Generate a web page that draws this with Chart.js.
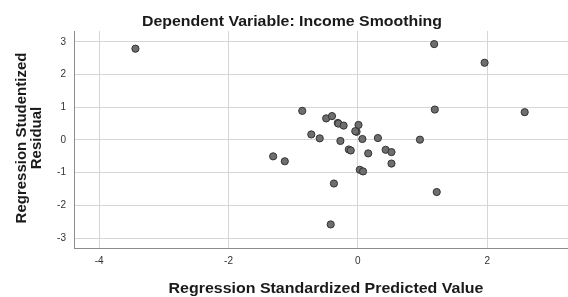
<!DOCTYPE html>
<html>
<head>
<meta charset="utf-8">
<script src="https://cdn.jsdelivr.net/npm/chart.js@4"></script>
<style>
  html, body { margin: 0; padding: 0; background: #fff; }
  #wrap { width: 568px; height: 297px; position: relative; }
</style>
</head>
<body>
<div id="wrap"><canvas id="residChart"></canvas></div>
<script>
// 标准化预测值 (x) 与 学生化残差 (y)
const predicted = [1.18, 1.96, -0.86, 1.19, 2.58, -0.49, -0.40, -0.31, -0.30, -0.22, 0.01, -0.02, -0.04,
    -0.72, -0.59, -0.27, 0.07, 0.31, 0.96, -0.14, -0.11, 0.16, 0.43, 0.52, 0.52, 0.03, 0.08, -0.37,
    1.22, -0.42, -3.44, -1.31, -1.13];
const residual = [2.93, 2.36, 0.89, 0.93, 0.85, 0.66, 0.73, 0.52, 0.50, 0.44, 0.46, 0.25, 0.27,
    0.17, 0.05, -0.03, 0.03, 0.06, 0.01, -0.29, -0.32, -0.41, -0.30, -0.37, -0.72, -0.91, -0.96, -1.33,
    -1.59, -2.58, 2.79, -0.50, -0.65];
const xTicks = [-4, -2, 0, 2];
const yTicks = [-3, -2, -1, 0, 1, 2, 3];

const chartTitle = 'Dependent Variable: Income Smoothing';
const xTitle = 'Regression Standardized Predicted Value';
const yTitle = ['Regression Studentized', 'Residual'];

const FONT = '"Liberation Sans", Arial, sans-serif';

// 按目标宽度画文字（原图略有横向拉伸）
function drawFitted(ctx, text, cx, baseline, width) {
    const w = ctx.measureText(text).width;
    ctx.save();
    ctx.translate(cx, baseline);
    ctx.scale(width / w, 1);
    ctx.fillText(text, 0, 0);
    ctx.restore();
}

const titlesPlugin = {
    id: 'titles',
    afterDraw(chart) {
        const ctx = chart.ctx;
        ctx.save();
        ctx.fillStyle = '#1a1a1a';
        ctx.textAlign = 'center';
        ctx.textBaseline = 'alphabetic';

        ctx.font = 'bold 15px ' + FONT;
        drawFitted(ctx, chartTitle, 292, 26, 300);
        drawFitted(ctx, xTitle, 326, 293, 315);

        // 纵轴标题，两行，旋转
        ctx.translate(0, 138);
        ctx.rotate(-Math.PI / 2);
        ctx.fillText(yTitle[0], 0, 25.5);
        ctx.fillText(yTitle[1], 0, 40.5);
        ctx.restore();
    }
};

new Chart(document.getElementById('residChart').getContext('2d'), {
    type: 'scatter',
    data: {
        datasets: [{
            data: predicted.map((x, i) => ({ x: x, y: residual[i] })),
            backgroundColor: '#6e6e6e',
            borderColor: '#333333',
            borderWidth: 1,
            pointRadius: 3.6,
            pointHoverRadius: 3.6
        }]
    },
    options: {
        responsive: true,
        maintainAspectRatio: false,
        animation: false,
        layout: { autoPadding: false, padding: { top: 31, right: 0, left: 0, bottom: 0 } },
        plugins: {
            legend: { display: false },
            tooltip: { enabled: false }
        },
        scales: {
            x: {
                type: 'linear',
                min: -4.39,
                max: 3.25,
                afterBuildTicks: s => { s.ticks = xTicks.map(v => ({ value: v })); },
                afterFit: s => { s.height = 49; s.paddingLeft = 0; s.paddingRight = 0; },
                grid: { color: '#d6d6d6', lineWidth: 1, drawTicks: false },
                border: { color: '#8c8c8c', width: 1 },
                ticks: { color: '#333', font: { family: FONT, size: 10 }, padding: 7 }
            },
            y: {
                type: 'linear',
                min: -3.3,
                max: 3.33,
                afterBuildTicks: s => { s.ticks = yTicks.map(v => ({ value: v })); },
                afterFit: s => { s.width = 74; },
                grid: { color: '#d6d6d6', lineWidth: 1, drawTicks: false },
                border: { color: '#8c8c8c', width: 1 },
                ticks: { color: '#333', font: { family: FONT, size: 10 }, padding: 8 }
            }
        }
    },
    plugins: [titlesPlugin]
});
</script>
</body>
</html>
